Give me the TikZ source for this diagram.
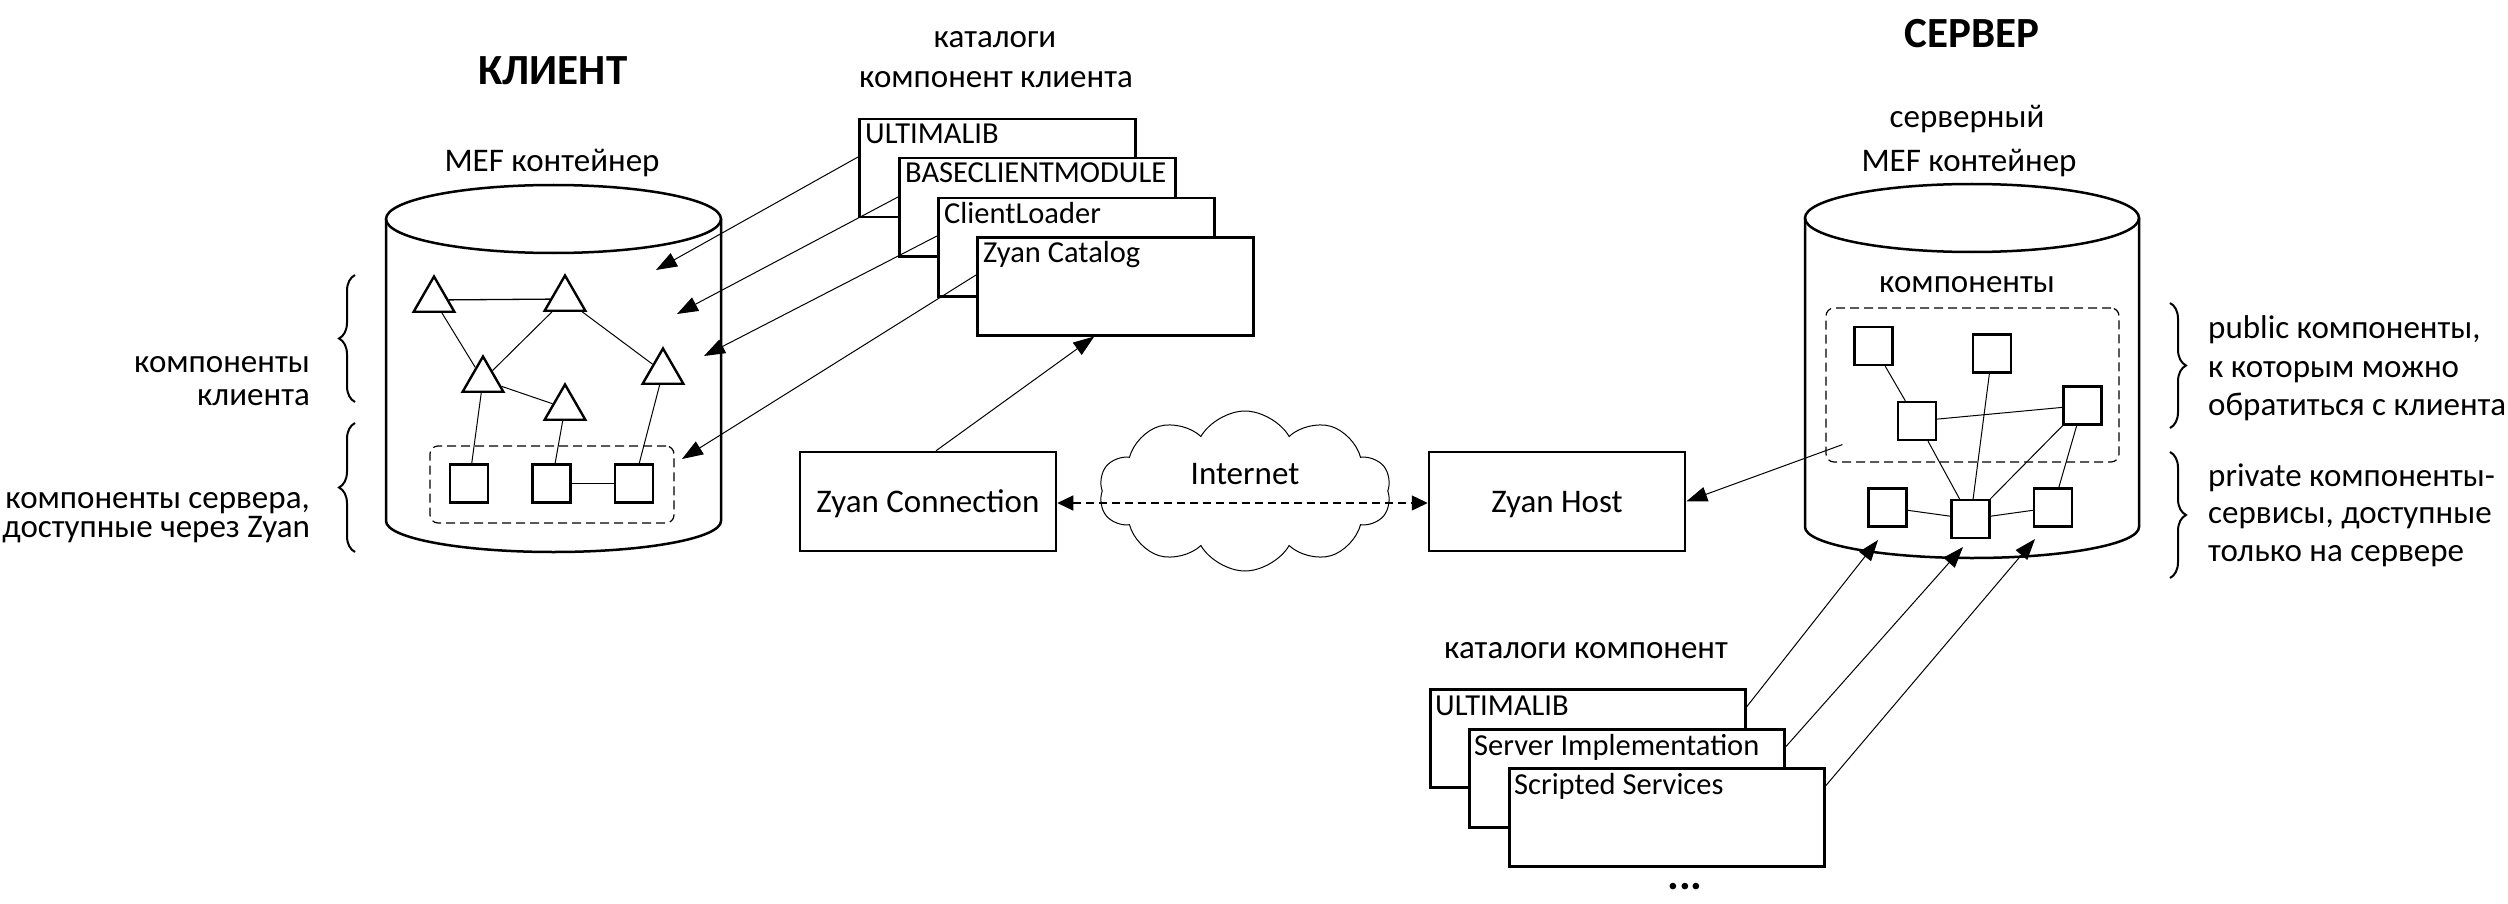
\documentclass[tikz,border=0pt]{standalone}
\usepackage{fontspec}
\setmainfont{Carlito}
\usetikzlibrary{shapes.symbols,shapes.geometric,arrows.meta,decorations.pathreplacing,calc}
\begin{document}
\begin{tikzpicture}[x=1pt,y=-1pt,
  font=\fontsize{33}{40}\selectfont,
  thickline/.style={line width=2.5pt},
  thinline/.style={line width=1pt},
  tri/.style={regular polygon, regular polygon sides=3, minimum size=47pt, inner sep=0pt, draw, line width=2.4pt, fill=white},
  sq/.style={draw, line width=2.4pt, minimum width=38pt, minimum height=38pt, inner sep=0pt, fill=white},
  dbox/.style={draw, line width=1.2pt, dash pattern=on 9pt off 5pt, rounded corners=8pt, inner sep=0pt},
  catbox/.style={draw, fill=white, line width=2.5pt, minimum width=276pt, minimum height=98pt, anchor=north west, inner sep=0pt},
  scatbox/.style={draw, fill=white, line width=2.5pt, minimum width=315pt, minimum height=98pt, anchor=north west, inner sep=0pt},
  zbox/.style={draw, line width=2.5pt, minimum width=256pt, minimum height=99pt, inner sep=0pt, text height=22pt, text depth=0pt},
  txt/.style={inner sep=0pt},
  cattxt/.style={inner sep=0pt, anchor=base west, font=\fontsize{30.5}{36}\selectfont},
  title/.style={inner sep=0pt, anchor=base, font=\fontsize{43}{50}\selectfont\bfseries},
  arr/.style={thinline, -{Triangle[length=21pt,width=15pt]}},
  brc/.style={line width=2pt, decorate, decoration={brace, amplitude=16pt}}
]
\useasboundingbox (0,0) rectangle (2508,904);
\fill[white] (0,0) rectangle (2508,904);

% ---------- client cylinder ----------
\draw[thickline] (553.5,219) ellipse [x radius=167.5pt, y radius=34pt];
\draw[thickline] (386,219) -- (386,521) arc[start angle=180, end angle=360, x radius=167.5pt, y radius=31pt] -- (721,219);

% ---------- server cylinder ----------
\draw[thickline] (1972,218) ellipse [x radius=167pt, y radius=34pt];
\draw[thickline] (1805,218) -- (1805,527) arc[start angle=180, end angle=360, x radius=167pt, y radius=31pt] -- (2139,218);

% ---------- dashed groups ----------
\node[dbox, minimum width=244pt, minimum height=77pt] (cdash) at (552,484.5) {};
\node[dbox, minimum width=293pt, minimum height=154pt] (sdash) at (1972.5,385) {};

% ---------- client components ----------
\node[tri] (T1) at (434,300) {};
\node[tri] (T2) at (565,299) {};
\node[tri] (T3) at (483,380) {};
\node[tri] (T4) at (565,408) {};
\node[tri] (T5) at (663,372) {};
\node[sq] (S1) at (469,483.5) {};
\node[sq] (S2) at (551.5,483.5) {};
\node[sq] (S3) at (634,483.5) {};
\draw[line width=1.3pt] (T1) -- (T2);
\draw[thinline] (T1) -- (T3);
\draw[thinline] (T2) -- (T3);
\draw[thinline] (T2) -- (T5);
\draw[thinline] (T3) -- (T4);
\draw[thinline] (T3) -- (S1);
\draw[thinline] (T4) -- (S2);
\draw[thinline] (T5) -- (S3);
\draw[thinline] (S2) -- (S3);

% ---------- server components ----------
\node[sq] (P1) at (1873.5,346) {};
\node[sq] (P2) at (1992,353.5) {};
\node[sq] (P3) at (1917,421) {};
\node[sq] (P4) at (2082.5,405.5) {};
\node[sq] (Q1) at (1887.5,507.5) {};
\node[sq] (Q2) at (1970.5,519) {};
\node[sq] (Q3) at (2053,507.5) {};
\draw[thinline] (P1) -- (P3);
\draw[thinline] (P2) -- (Q2);
\draw[thinline] (P3) -- (P4);
\draw[thinline] (P3) -- (Q2);
\draw[thinline] (P4) -- (Q2);
\draw[thinline] (P4) -- (Q3);
\draw[thinline] (Q1) -- (Q2);
\draw[thinline] (Q2) -- (Q3);

% ---------- client catalogs ----------
\node[catbox] (cult) at (858,118) {};
\node[catbox] (cbcm) at (898,157) {};
\node[catbox] (ccl) at (937,197) {};
\node[catbox] (czc) at (976,236) {};
\node[cattxt] at ([xshift=7pt,yshift=-26pt]cult.north west) {ULTIMALIB};
\node[cattxt] at ([xshift=7pt,yshift=-26pt]cbcm.north west) {BASECLIENTMODULE};
\node[cattxt] at ([xshift=7pt,yshift=-26pt]ccl.north west) {ClientLoader};
\node[cattxt] at ([xshift=7pt,yshift=-26pt]czc.north west) {Zyan Catalog};

\coordinate (ca1) at (656,270);
\coordinate (ca2) at (677,314);
\coordinate (ca3) at (704,356);
\coordinate (ca4) at (682,459);
\draw[arr] ([yshift=-39pt]cult.north west) -- (ca1);
\draw[arr] ([yshift=-40pt]cbcm.north west) -- (ca2);
\draw[arr] ([yshift=-39pt]ccl.north west) -- (ca3);
\draw[arr] ([yshift=-39pt]czc.north west) -- (ca4);

% ---------- server catalogs ----------
\node[scatbox] (sult) at (1429,688) {};
\node[scatbox] (ssi) at (1468,728) {};
\node[scatbox] (sss) at (1508,767) {};
\node[cattxt] at ([xshift=6pt,yshift=-27pt]sult.north west) {ULTIMALIB};
\node[cattxt] at ([xshift=6pt,yshift=-27pt]ssi.north west) {Server Implementation};
\node[cattxt] at ([xshift=6pt,yshift=-27pt]sss.north west) {Scripted Services};
\coordinate (sa1) at (1878,540);
\coordinate (sa2) at (1963,547);
\coordinate (sa3) at (2035,539);
\draw[arr] ([yshift=-19pt]sult.north east) -- (sa1);
\draw[arr] ([yshift=-19pt]ssi.north east) -- (sa2);
\draw[arr] ([yshift=-19pt]sss.north east) -- (sa3);
\node[txt, anchor=base, font=\fontsize{44}{50}\selectfont\bfseries] at (1685,889) {...};

% ---------- Zyan connection ----------
\node[cloud, draw, thinline, cloud puffs=10, cloud puff arc=120, aspect=1.8, minimum width=292pt, minimum height=160pt, inner sep=0pt] (net) at (1245,491) {};
\node[txt, anchor=base] at (1245,484) {Internet};
\node[zbox] (zconn) at (928,501.5) {Zyan Connection};
\node[zbox] (zhost) at (1557,501.5) {Zyan Host};
\draw[line width=1.3pt, dash pattern=on 8pt off 5pt, {Triangle[length=16pt,width=15pt]}-{Triangle[length=16pt,width=15pt]}] ([yshift=-1.5pt]zconn.east) -- ([yshift=-1.5pt]zhost.west);
\draw[arr] ([xshift=8pt]zconn.north) -- ([xshift=-21pt]czc.south);
\draw[arr] ([xshift=17pt,yshift=18pt]sdash.south west) -- (zhost.east);

% ---------- titles and labels ----------
\node[title] at (553,85) {КЛИЕНТ};
\node[title] at (1972,48) {СЕРВЕР};
\node[txt, anchor=base] at (552,172) {MEF контейнер};
\node[txt, anchor=base] at (995,48) {каталоги};
\node[txt, anchor=base] at (996,88) {компонент клиента};
\node[txt, anchor=base] at (1967,128) {серверный};
\node[txt, anchor=base] at (1969,172) {MEF контейнер};
\node[txt, anchor=base] at (1967,292) {компоненты};
\node[txt, anchor=base] at (1586,658) {каталоги компонент};

\node[txt, anchor=base east] at (310,372) {компоненты};
\node[txt, anchor=base east] at (310,405) {клиента};
\node[txt, anchor=base east] at (310,508) {компоненты сервера,};
\node[txt, anchor=base east] at (310,537) {доступные через Zyan};

\node[txt, anchor=base west] at (2208,338) {public компоненты,};
\node[txt, anchor=base west] at (2208,377) {к которым можно};
\node[txt, anchor=base west] at (2208,415) {обратиться с клиента};
\node[txt, anchor=base west] at (2208,486) {private компоненты-};
\node[txt, anchor=base west] at (2208,523) {сервисы, доступные};
\node[txt, anchor=base west] at (2208,561) {только на сервере};

% ---------- braces ----------
\draw[brc] (355,402) -- (355,275);
\draw[brc] (355,552) -- (355,423);
\draw[brc] (2170,303) -- (2170,428);
\draw[brc] (2170,452) -- (2170,578);
\end{tikzpicture}
\end{document}
